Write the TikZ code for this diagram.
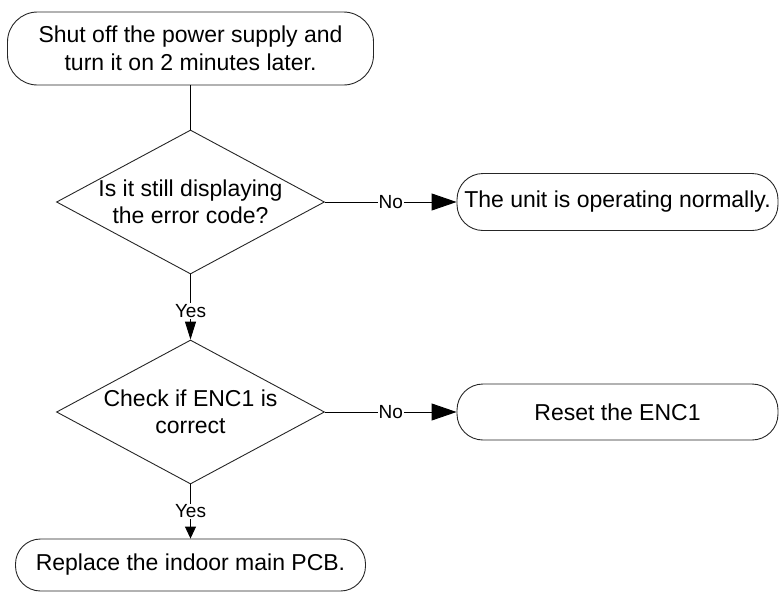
\documentclass[tikz,border=0pt]{standalone}
\usepackage{fontspec}
\setmainfont{Liberation Sans}
\usetikzlibrary{arrows.meta,shapes.geometric}
\begin{document}
\begin{tikzpicture}[x=1pt,y=-1pt,
  every node/.style={font=\fontsize{23}{27.5}\selectfont},
  procbox/.style={draw=black!85, line width=0.9pt, rectangle, inner sep=0pt, align=center},
  decision/.style={draw=black!85, line width=0.9pt, diamond, aspect=1.86,
    minimum width=268pt, minimum height=144pt, inner xsep=-5pt, inner ysep=0pt, align=center},
  lbl/.style={fill=white, inner sep=1pt, font=\fontsize{19}{21}\selectfont},
  conn/.style={line width=0.9pt},
  noarrow/.style={conn, -{Triangle[length=25pt,width=17pt]}},
  yesarrow/.style={conn, -{Triangle[length=#1,width=11pt]}}
]
\useasboundingbox (0,0) rectangle (779,592);

\node[procbox, rounded corners=30pt, minimum width=366pt, minimum height=73pt] (start) at (190.5,48.5)
  {Shut off the power supply and\\turn it on 2 minutes later.};
\node[decision] (d1) at (190.5,202) {Is it still displaying\\the error code?};
\node[procbox, rounded corners=26pt, minimum width=321pt, minimum height=57pt] (ok) at (617.5,202)
  {The unit is operating normally.};
\node[decision] (d2) at (190.5,412) {Check if ENC1 is\\correct};
\node[procbox, rounded corners=26pt, minimum width=321pt, minimum height=56pt] (reset) at (617.5,412)
  {Reset the ENC1};
\node[procbox, rounded corners=25pt, minimum width=350pt, minimum height=52pt] (pcb) at (190.5,565)
  {Replace the indoor main PCB.};

\draw[conn] (start.south) -- (d1.north);
\draw[noarrow] (d1.east) -- node[lbl]{No} (ok.west);
\draw[yesarrow=18pt] (d1.south) -- node[lbl, pos=0.56]{Yes} (d2.north);
\draw[noarrow] (d2.east) -- node[lbl]{No} (reset.west);
\draw[yesarrow=12pt] (d2.south) -- node[lbl, pos=0.5]{Yes} (pcb.north);
\end{tikzpicture}
\end{document}
